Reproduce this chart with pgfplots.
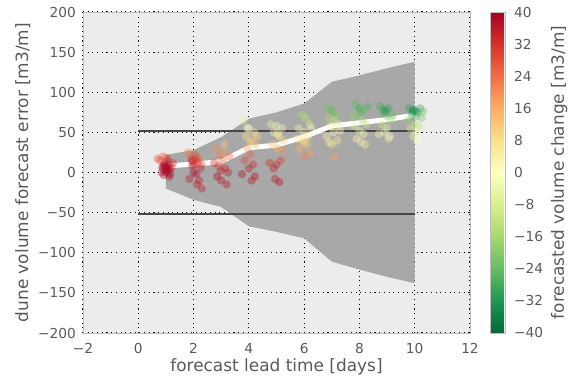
\documentclass[border=0pt]{standalone}
\usepackage{pgfplots}
\pgfplotsset{compat=1.18}
\usepackage{fontspec}
\setmainfont{DejaVu Sans}
\definecolor{txt}{RGB}{90,90,90}
\definecolor{bg}{RGB}{236,236,236}
\definecolor{band}{RGB}{168,168,168}
\definecolor{frame}{RGB}{190,190,190}
\pgfplotstableread{
x y c
1.00 8 40
0.90 5 38
1.05 3 39
1.10 10 37
0.95 12 36
0.85 0 38
1.15 -2 40
1.20 6 35
0.80 15 30
0.88 20 26
1.02 18 30
1.12 -5 38
0.92 -3 40
1.25 12 33
0.70 17 28
1.08 15 34
0.98 6 40
1.03 0 39
0.93 9 40
1.07 6 40
0.97 2 39
0.87 7 37
1.13 4 38
1.90 20 28
2.05 22 30
2.15 12 34
1.95 8 36
2.25 5 35
2.10 -2 38
1.85 -8 37
2.20 -10 36
2.30 -20 35
1.92 15 32
2.00 0 38
2.12 -15 36
2.28 10 30
1.80 25 22
2.18 18 26
2.02 10 36
1.97 14 34
2.08 16 32
2.80 30 20
2.95 22 22
3.10 25 18
3.05 15 26
2.90 8 30
3.15 5 34
3.25 0 36
2.85 -5 38
3.00 -10 37
3.20 -15 36
2.75 12 32
3.12 35 12
3.30 20 24
2.98 2 36
3.80 65 -5
4.00 55 2
4.20 50 6
3.90 45 8
4.10 40 12
4.25 35 14
3.95 30 18
4.05 22 26
3.85 15 30
4.15 10 34
4.00 5 36
3.75 -2 38
4.22 -5 38
4.10 -10 37
3.95 55 0
4.30 45 10
4.05 38 10
4.80 60 -4
5.00 58 0
5.20 55 2
4.90 50 4
5.10 45 6
5.25 40 10
4.85 35 12
5.05 30 16
5.20 28 20
4.75 12 32
5.00 10 34
4.90 5 36
5.15 15 30
4.95 -8 36
5.10 -12 38
5.05 48 4
5.90 72 -15
6.05 68 -12
6.20 60 -8
5.80 55 -2
6.00 50 2
6.15 45 5
5.95 40 8
6.10 35 12
5.85 30 15
6.20 25 18
6.05 20 22
6.25 55 0
5.75 42 6
6.00 38 10
6.85 80 -22
7.00 78 -25
7.15 72 -20
6.90 68 -14
7.10 65 -10
7.25 60 -6
6.95 58 -4
7.05 50 2
6.80 45 4
7.20 40 6
7.00 35 8
6.90 38 5
7.10 20 18
7.30 52 0
7.02 74 -22
7.85 85 -25
8.00 80 -28
8.15 78 -24
7.95 72 -20
8.10 65 -15
8.25 60 -10
7.80 58 -6
8.00 52 -4
8.15 48 0
7.90 42 2
8.05 38 4
8.20 35 3
7.75 70 -18
8.30 82 -26
8.05 76 -26
8.75 82 -28
8.90 78 -32
9.05 80 -30
8.85 75 -26
9.00 70 -22
9.15 65 -16
8.80 60 -10
9.00 55 -6
8.90 50 -2
9.10 45 0
8.70 48 2
9.05 42 4
9.20 72 -24
8.95 76 -32
9.80 80 -30
9.95 78 -34
10.10 75 -32
10.20 80 -28
9.90 72 -30
10.05 70 -26
10.25 68 -22
9.75 65 -18
10.00 60 -14
10.15 58 -10
9.85 55 -8
10.05 50 -4
9.95 45 -2
10.10 40 0
10.30 76 -24
10.02 77 -34
9.92 76 -32
}\pts
\begin{document}
\begin{tikzpicture}
\begin{axis}[
  at={(0,0)}, anchor=south west,
  scale only axis,
  width=387bp, height=321bp,
  xmin=-2, xmax=12, ymin=-200, ymax=200,
  xtick={-2,0,2,4,6,8,10,12},
  xticklabels={−2,0,2,4,6,8,10,12},
  ytick={-200,-150,-100,-50,0,50,100,150,200},
  yticklabels={−200,−150,−100,−50,0,50,100,150,200},
  tick style={draw=none},
  tick label style={text=txt, font=\fontsize{13.8}{16}\selectfont, inner sep=0pt},
  yticklabel style={anchor=east, xshift=-7bp},
  xticklabel style={anchor=north, yshift=-10bp},
  xlabel={forecast lead time [days]},
  ylabel={dune volume forecast error [m3/m]},
  xlabel style={at={(axis description cs:0.5,-0.0779)}, anchor=north, inner sep=0pt, text=txt, font=\fontsize{17}{20}\selectfont},
  ylabel style={at={(axis description cs:-0.1757,0.5)}, anchor=north, inner sep=0pt, text=txt, font=\fontsize{17}{20}\selectfont},
  axis background/.style={fill=bg},
  axis line style={draw=frame},
  grid=major,
  major grid style={black, line width=1.1bp, dash pattern=on 1.1bp off 3.6bp},
  colormap={rdylgnr}{rgb255=(0,104,55) rgb255=(26,152,80) rgb255=(102,189,99) rgb255=(166,217,106) rgb255=(217,239,139) rgb255=(255,255,191) rgb255=(254,224,139) rgb255=(253,174,97) rgb255=(244,109,67) rgb255=(215,48,39) rgb255=(165,0,38)},
  point meta min=-40, point meta max=40,
  colorbar,
  colorbar style={
    at={(parent axis.north east)}, anchor=north west, xshift=11.5bp,
    width=15bp,
    ytick={-40,-32,-24,-16,-8,0,8,16,24,32,40},
    yticklabels={−40,−32,−24,−16,−8,0,8,16,24,32,40},
    tick style={draw=none},
    axis line style={draw=frame},
    yticklabel style={text=txt, font=\fontsize{13.8}{16}\selectfont, inner sep=0pt, anchor=west, xshift=9bp},
    ylabel={forecasted volume change [m3/m]},
    ylabel style={at={(axis description cs:4.05,0.5)}, anchor=north, inner sep=0pt, text=txt, font=\fontsize{17}{20}\selectfont},
  },
]
\addplot[draw=none, fill=band] coordinates {
 (1,22) (2,28) (3,44) (4,67) (5,75) (6,86) (7,113) (8,121) (9,130) (10,138)
 (10,-138) (9,-130) (8,-121) (7,-111) (6,-82) (5,-74) (4,-67) (3,-43) (2,-34) (1,-20)
} -- cycle;
\addplot[black!72, line width=1.8pt] coordinates {(0,52) (10,52)};
\addplot[black!72, line width=1.8pt] coordinates {(0,-52) (10,-52)};
\addplot[scatter, only marks, mark=*, mark size=4.2bp,
  point meta=explicit,
  scatter/use mapped color={draw opacity=0, fill=mapped color},
  mark options={draw opacity=0, fill opacity=0.38}]
  table[x=x, y=y, meta=c] {\pts};
\addplot[white, line width=5bp] coordinates {
 (1,8) (2,10.5) (3,13.5) (4,31) (5,34) (6,44.5) (7,58) (8,62) (9,66) (10,71.5)};
\end{axis}
\pgfresetboundingbox
\path (-83bp,-50bp) rectangle (494bp,333bp);
\end{tikzpicture}
\end{document}
